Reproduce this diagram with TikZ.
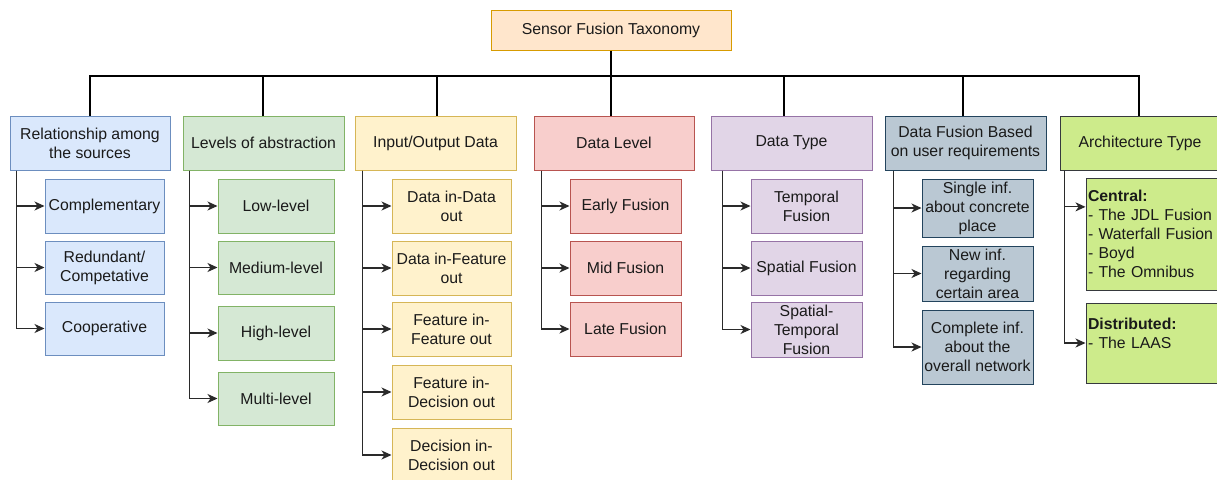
\documentclass[tikz,border=0pt]{standalone}
\usepackage{fontspec}
\setmainfont{Liberation Sans}
\usetikzlibrary{arrows.meta,calc}
\definecolor{topfill}{HTML}{FFE6CC}\definecolor{topdraw}{HTML}{D79B00}
\definecolor{bfill}{HTML}{DAE8FC}\definecolor{bdraw}{HTML}{6C8EBF}
\definecolor{gfill}{HTML}{D5E8D4}\definecolor{gdraw}{HTML}{82B366}
\definecolor{yfill}{HTML}{FFF2CC}\definecolor{ydraw}{HTML}{D6B656}
\definecolor{rfill}{HTML}{F8CECC}\definecolor{rdraw}{HTML}{B85450}
\definecolor{pfill}{HTML}{E1D5E7}\definecolor{pdraw}{HTML}{9673A6}
\definecolor{sfill}{HTML}{BAC8D3}\definecolor{sdraw}{HTML}{23445D}
\definecolor{lfill}{HTML}{CDEB8B}\definecolor{ldraw}{HTML}{36393D}
\definecolor{txt}{HTML}{1A1A1A}
\definecolor{wire}{HTML}{2A2A2A}
\newcommand\fs{\fontsize{15.8}{19}\selectfont}
\newcommand\bx[7]{\node[#6, minimum width={(#4-#2)*1pt}, minimum height={(#5-#3)*1pt}] (#1) at ({(#2+#4)/2},{(#3+#5)/2}) {#7};}
\tikzset{
  box/.style={draw, line width=1pt, inner sep=0pt, align=center, font=\fs, text=txt},
  topbox/.style={box, fill=topfill, draw=topdraw},
  bluebox/.style={box, fill=bfill, draw=bdraw},
  greenbox/.style={box, fill=gfill, draw=gdraw},
  yellowbox/.style={box, fill=yfill, draw=ydraw},
  redbox/.style={box, fill=rfill, draw=rdraw},
  purplebox/.style={box, fill=pfill, draw=pdraw},
  slatebox/.style={box, fill=sfill, draw=sdraw},
  limebox/.style={box, fill=lfill, draw=ldraw},
  limeleft/.style={limebox, align=left, text width=132pt, inner xsep=2pt},
  bus/.style={line width=1.2pt, draw=black},
  arr/.style={line width=1.2pt, draw=wire, -{Stealth[length=10pt,width=9pt,inset=3pt]}},
}
\begin{document}
\begin{tikzpicture}[x=1pt,y=-1pt]
\useasboundingbox (0,0) rectangle (1217,479);
\clip (0,0) rectangle (1217,479);
\fill[white] (0,0) rectangle (1217,479);
% top
\bx{top}{491}{10}{731}{50}{topbox}{Sensor Fusion Taxonomy}
% categories
\bx{h1}{10}{116}{170}{170}{bluebox}{Relationship among\\the sources}
\bx{h2}{183}{116}{344}{170}{greenbox}{Levels of abstraction}
\bx{h3}{355}{116}{516}{170}{yellowbox}{Input/Output Data}
\bx{h4}{534}{116}{694}{170}{redbox}{Data Level}
\bx{h5}{711}{116}{872}{170}{purplebox}{Data Type}
\bx{h6}{885}{116}{1046}{170}{slatebox}{Data Fusion Based\\on user requirements}
\bx{h7}{1060}{116}{1222}{170}{limebox}{\hspace*{-2pt}Architecture Type}
% bus
\coordinate (bus) at (611,76);
\draw[bus] (top.south) -- (bus);
\draw[bus] (bus) -| (h1.north);
\draw[bus] (bus) -| ([xshift=-0.5pt]h2.north);
\draw[bus] (bus) -| ([xshift=1.5pt]h3.north);
\draw[bus] (bus) -| ([xshift=-3pt]h4.north);
\draw[bus] (bus) -| ([xshift=-7.5pt]h5.north);
\draw[bus] (bus) -| ([xshift=-2.5pt]h6.north);
\draw[bus] (bus) -| ([xshift=-2pt]h7.north);
% blue children
\bx{b1}{45}{179}{164}{233}{bluebox}{Complementary}
\bx{b2}{45}{241}{164}{294}{bluebox}{Redundant/\\Competative}
\bx{b3}{45}{302}{164}{355}{bluebox}{Cooperative}
% green children
\bx{g1}{218}{179}{334}{233}{greenbox}{Low-level}
\bx{g2}{218}{241}{334}{294}{greenbox}{Medium-level}
\bx{g3}{218}{306}{334}{360}{greenbox}{High-level}
\bx{g4}{218}{372}{334}{425}{greenbox}{Multi-level}
% yellow children
\bx{y1}{392}{179}{511}{233}{yellowbox}{Data in-Data\\out}
\bx{y2}{392}{241}{511}{295}{yellowbox}{Data in-Feature\\out}
\bx{y3}{392}{302}{511}{356}{yellowbox}{Feature in-\\Feature out}
\bx{y4}{392}{365}{511}{419}{yellowbox}{Feature in-\\Decision out}
\bx{y5}{392}{428}{511}{482}{yellowbox}{Decision in-\\Decision out}
% red children
\bx{r1}{570}{179}{681}{233}{redbox}{Early Fusion}
\bx{r2}{570}{241}{681}{295}{redbox}{Mid Fusion}
\bx{r3}{570}{302}{681}{356}{redbox}{Late Fusion}
% purple children
\bx{p1}{751}{179}{862}{233}{purplebox}{Temporal\\Fusion}
\bx{p2}{751}{241}{862}{295}{purplebox}{Spatial Fusion}
\bx{p3}{751}{302}{862}{357}{purplebox}{Spatial-\\Temporal\\Fusion}
% slate children
\bx{s1}{922}{179}{1033}{237}{slatebox}{Single inf.\\about concrete\\place}
\bx{s2}{922}{246}{1033}{301}{slatebox}{New inf.\\regarding\\certain area}
\bx{s3}{922}{310}{1033}{384}{slatebox}{Complete inf.\\about the\\overall network}
% lime children
\bx{l1}{1086}{178}{1222}{290}{limeleft}{\textbf{Central:}\\- The JDL Fusion\\- Waterfall Fusion\\- Boyd\\- The Omnibus}
\bx{l2}{1086}{303}{1222}{383}{limeleft}{\textbf{Distributed:}\\- The LAAS\\\mbox{}}
% arrows
\foreach \c in {b1,b2,b3} \draw[arr] ([xshift=7pt]h1.south west) |- (\c.west);
\foreach \c in {g1,g2,g3,g4} \draw[arr] ([xshift=7pt]h2.south west) |- (\c.west);
\foreach \c in {y1,y2,y3,y4,y5} \draw[arr] ([xshift=8pt]h3.south west) |- (\c.west);
\foreach \c in {r1,r2,r3} \draw[arr] ([xshift=8pt]h4.south west) |- (\c.west);
\foreach \c in {p1,p2,p3} \draw[arr] ([xshift=12pt]h5.south west) |- (\c.west);
\foreach \c in {s1,s2,s3} \draw[arr] ([xshift=9pt]h6.south west) |- (\c.west);
\draw[arr] ([xshift=5pt]h7.south west) |- ($(l1.north west)!0.26!(l1.south west)$);
\draw[arr] ([xshift=5pt]h7.south west) |- (l2.west);
\end{tikzpicture}
\end{document}
